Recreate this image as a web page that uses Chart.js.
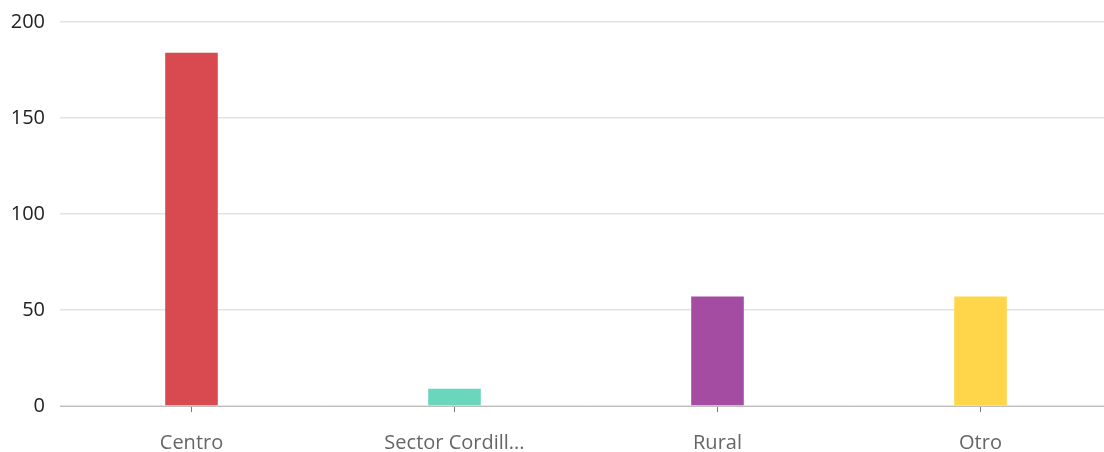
<!DOCTYPE html>
<html>
<head>
	<meta charset="UTF-8">
	<title>Chart</title>
	<script src="https://cdn.jsdelivr.net/npm/chart.js"></script>
	<style>
	html, body{margin:0; padding:0; background:#fff; overflow:hidden;}
	#wrap{width:1104px; height:452px; overflow:hidden; position:relative;}
	#box{width:1112px; height:479px; position:absolute; left:0; top:-5px;}
	</style>
</head>
<body>
	<div id="wrap"><div id="box">
		<canvas id="myChart"></canvas>
	</div></div>
	<script>
	// data
	var categories = ['Centro', 'Sector Cordill...', 'Rural', 'Otro'];
	var values = [184, 9, 57, 57];
	var barColors = ['#d84a50', '#6ad7bd', '#a44ca2', '#ffd54a'];
	var yTicks = [0, 50, 100, 150, 200];

	const ctx = document.getElementById('myChart');
	new Chart(ctx, {
		type: 'bar',
		data: {
			labels: categories,
			datasets: [{
				data: values,
				backgroundColor: barColors,
				borderWidth: 0,
				barPercentage: 0.2,
				categoryPercentage: 1
			}]
		},
		options: {
			responsive: true,
			maintainAspectRatio: false,
			animation: false,
			layout: { padding: { top: 8, right: 0, left: 0, bottom: 0 } },
			plugins: { legend: { display: false }, tooltip: { enabled: false } },
			scales: {
				x: {
					grid: { offset: false, drawOnChartArea: false, drawTicks: true, tickLength: 6, color: '#777' },
					border: { color: '#bdbdbd', width: 1 },
					ticks: { color: '#666', font: { family: 'Open Sans', size: 20 }, padding: 19, maxRotation: 0, autoSkip: false }
				},
				y: {
					min: 0,
					max: 200,
					afterBuildTicks: function(axis){ axis.ticks = yTicks.map(function(v){ return {value: v}; }); },
					afterFit: function(axis){ axis.width = 60; },
					grid: { color: '#e3e3e3', drawTicks: false, lineWidth: 1.5 },
					border: { display: false },
					ticks: { color: '#222', font: { family: 'Open Sans', size: 20 }, padding: 15 }
				}
			}
		}
	});
	</script>
</body>
</html>
